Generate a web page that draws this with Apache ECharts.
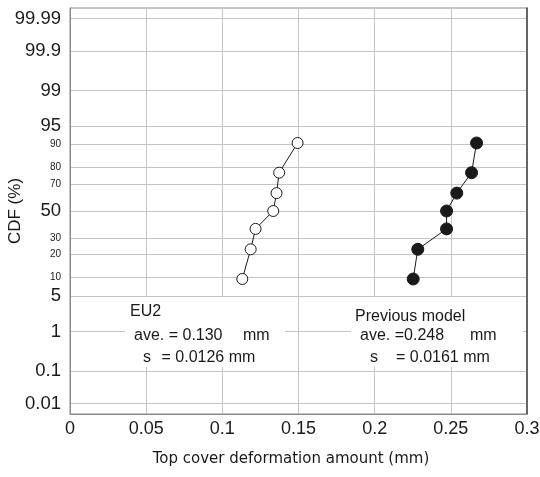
<!DOCTYPE html>
<html>
<head>
<meta charset="utf-8">
<script src="https://cdn.jsdelivr.net/npm/echarts@6/dist/echarts.min.js"></script>
<style>
html,body{margin:0;padding:0;background:#fff;}
#chart{width:540px;height:477px;}
</style>
</head>
<body>
<div id="chart"></div>
<script>
// ---- data ----
const cdfTickLabels = [0.01, 0.1, 1, 5, 10, 20, 30, 50, 70, 80, 90, 95, 99, 99.9, 99.99];
const smallTickLabels = [10, 20, 30, 70, 80, 90];
const xTickMin = 0, xTickMax = 0.3, xTickStep = 0.05;
const cdfPercent = [9.46, 22.97, 36.49, 50, 63.51, 77.03, 90.54];
const eu2Values = [0.1131, 0.1186, 0.1218, 0.1334, 0.1356, 0.1373, 0.1494];
const prevValues = [0.2253, 0.2283, 0.2472, 0.2472, 0.2539, 0.2636, 0.2669];

// normal probability (probit) transform for the CDF axis
function probit(p) {
  const a = [-3.969683028665376e+01, 2.209460984245205e+02, -2.759285104469687e+02, 1.383577518672690e+02, -3.066479806614716e+01, 2.506628277459239e+00];
  const b = [-5.447609879822406e+01, 1.615858368580409e+02, -1.556989798598866e+02, 6.680131188771972e+01, -1.328068155288572e+01];
  const c = [-7.784894002430293e-03, -3.223964580411365e-01, -2.400758277161838e+00, -2.549732539343734e+00, 4.374664141464968e+00, 2.938163982698783e+00];
  const d = [7.784695709041462e-03, 3.224671290700398e-01, 2.445134137142996e+00, 3.754408661907416e+00];
  const pl = 0.02425, ph = 1 - pl;
  let q, r;
  if (p < pl) {
    q = Math.sqrt(-2 * Math.log(p));
    return (((((c[0]*q+c[1])*q+c[2])*q+c[3])*q+c[4])*q+c[5]) / ((((d[0]*q+d[1])*q+d[2])*q+d[3])*q+1);
  } else if (p <= ph) {
    q = p - 0.5; r = q * q;
    return (((((a[0]*r+a[1])*r+a[2])*r+a[3])*r+a[4])*r+a[5])*q / (((((b[0]*r+b[1])*r+b[2])*r+b[3])*r+b[4])*r+1);
  } else {
    q = Math.sqrt(-2 * Math.log(1 - p));
    return -(((((c[0]*q+c[1])*q+c[2])*q+c[3])*q+c[4])*q+c[5]) / ((((d[0]*q+d[1])*q+d[2])*q+d[3])*q+1);
  }
}
const z = pct => probit(pct / 100);
const tickZ = cdfTickLabels.map(z);

function labelFor(v) {
  let best = 0, bd = Infinity;
  tickZ.forEach((t, i) => { const dd = Math.abs(t - v); if (dd < bd) { bd = dd; best = i; } });
  const lab = cdfTickLabels[best];
  return smallTickLabels.indexOf(lab) >= 0 ? '{s|' + lab + '}' : '{b|' + lab + '}';
}

const chart = echarts.init(document.getElementById('chart'), null, {renderer: 'canvas'});
const txt = {fontFamily: 'Liberation Sans', fontSize: 16, fill: '#1a1a1a'};
function t(x, y, s) {
  return {type: 'text', x: x, y: y, z: 101, style: Object.assign({text: s, verticalAlign: 'middle', align: 'left'}, txt)};
}
chart.setOption({
  backgroundColor: '#fff',
  animation: false,
  grid: {left: 70, right: 13, top: 8, bottom: 63, show: true, borderColor: '#8a8a8a', borderWidth: 1,
    containLabel: false, outerBoundsMode: 'none'},
  xAxis: {
    type: 'value', min: xTickMin, max: xTickMax, interval: xTickStep,
    name: 'Top cover deformation amount (mm)', nameLocation: 'middle', nameGap: 38, nameMoveOverlap: false,
    nameTextStyle: {fontFamily: 'DejaVu Sans', fontSize: 15, color: '#1a1a1a', padding: [0, 15, 0, 0]},
    axisLine: {show: true, onZero: false, lineStyle: {color: '#8a8a8a', width: 1}},
    axisTick: {show: false},
    axisLabel: {fontFamily: 'Liberation Sans', fontSize: 18, color: '#1a1a1a', margin: 6,
      showMaxLabel: true, hideOverlap: false,
      formatter: v => String(+v.toFixed(2))},
    splitLine: {show: true, lineStyle: {color: '#c4c4c4', width: 1}}
  },
  yAxis: [{
    type: 'value', min: -3.92, max: 3.92,
    name: 'CDF (%)', nameLocation: 'middle', nameGap: 46, nameMoveOverlap: false,
    nameTextStyle: {fontFamily: 'Liberation Sans', fontSize: 17, color: '#1a1a1a'},
    axisLine: {show: true, onZero: false, lineStyle: {color: '#8a8a8a', width: 1}},
    axisTick: {show: false, customValues: tickZ},
    axisLabel: {customValues: tickZ, margin: 9, formatter: labelFor, hideOverlap: false,
      rich: {
        b: {fontFamily: 'Liberation Sans', fontSize: 18.5, color: '#1a1a1a'},
        s: {fontFamily: 'Liberation Sans', fontSize: 10, color: '#1a1a1a'}
      }},
    splitLine: {show: true, lineStyle: {color: '#c4c4c4', width: 1}}
  }, {
    type: 'value', min: -3.92, max: 3.92, position: 'right',
    axisLine: {show: true, onZero: false, lineStyle: {color: '#444', width: 1.5}},
    axisTick: {show: false}, axisLabel: {show: false}, splitLine: {show: false}
  }],
  series: [
    {
      name: 'EU2', type: 'line',
      data: eu2Values.map((v, i) => [v, z(cdfPercent[i])]),
      symbol: 'circle', symbolSize: 11,
      itemStyle: {color: '#fff', borderColor: '#1a1a1a', borderWidth: 1},
      lineStyle: {color: '#1a1a1a', width: 1}, z: 5
    },
    {
      name: 'Previous model', type: 'line',
      data: prevValues.map((v, i) => [v, z(cdfPercent[i])]),
      symbol: 'circle', symbolSize: 12,
      itemStyle: {color: '#1a1a1a', borderColor: '#1a1a1a', borderWidth: 1},
      lineStyle: {color: '#1a1a1a', width: 1}, z: 5
    }
  ],
  graphic: [
    {type: 'rect', z: 100, shape: {x: 125, y: 297, width: 160, height: 70}, style: {fill: '#fff'}},
    {type: 'rect', z: 100, shape: {x: 351, y: 297, width: 172, height: 70}, style: {fill: '#fff'}},
    t(130, 312, 'EU2'),
    t(134, 335.5, 'ave. = 0.130'),
    t(243, 335.5, 'mm'),
    t(143, 357.5, 's'),
    t(161.5, 357.5, '= 0.0126 mm'),
    t(355, 316.5, 'Previous model'),
    t(360, 336, 'ave. =0.248'),
    t(470, 336, 'mm'),
    t(370, 357.5, 's'),
    t(396, 357.5, '= 0.0161 mm')
  ]
});
</script>
</body>
</html>
